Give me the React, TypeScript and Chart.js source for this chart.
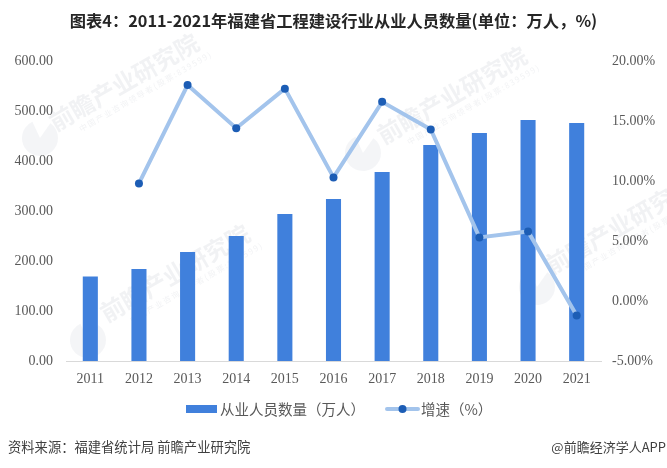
import React, { useEffect, useRef } from 'react';
import Chart from 'chart.js/auto';

const years = ['2011', '2012', '2013', '2014', '2015', '2016', '2017', '2018', '2019', '2020', '2021'];
const workers = [169, 184, 218, 250, 294, 324, 378, 432, 456, 482, 476];
const growth = [null, 9.8, 18.0, 14.4, 17.7, 10.3, 16.6, 14.3, 5.3, 5.8, -1.2];

const titleText = '图表4：2011-2021年福建省工程建设行业从业人员数量(单位：万人，%)';
const sourceText = '资料来源：福建省统计局 前瞻产业研究院';
const brandText = '@前瞻经济学人APP';
const barLabel = '从业人员数量（万人）';
const lineLabel = '增速（%）';
const watermarkText = '前瞻产业研究院';
const watermarkSub = '中国产业咨询领导者(股票:839599)';
// text centre x, y and logo centre x, y of each stamp
const watermarkSpots = [
  [124, 82, 40, 138],
  [175, 273, 88, 340],
  [452, 95, 363, 153],
  [620, 225, 537, 287],
];

const serif = '"Liberation Serif", "Noto Sans CJK SC", serif';
const sans = '"Noto Sans CJK SC", sans-serif';
const textColor = '#595959';
const barColor = '#4080dc';
const lineColor = '#a3c4ec';
const dotColor = '#1c5db5';

// watermark goes under the marks, the legend and the source lines on top
const extras = {
  id: 'extras',
  beforeDatasetsDraw(chart: Chart) {
    const ctx = chart.ctx;
    ctx.save();
    ctx.textAlign = 'center';
    ctx.textBaseline = 'middle';
    watermarkSpots.forEach(([x, y, lx, ly]) => {
      // round logo with a wedge cut out at the top
      ctx.fillStyle = 'rgba(130, 145, 170, 0.09)';
      ctx.beginPath();
      ctx.moveTo(lx, ly);
      ctx.arc(lx, ly, 18, (-55 * Math.PI) / 180, (-115 * Math.PI) / 180);
      ctx.closePath();
      ctx.fill();

      ctx.save();
      ctx.translate(x, y);
      ctx.rotate((-30 * Math.PI) / 180);
      ctx.fillStyle = 'rgba(130, 140, 155, 0.11)';
      ctx.font = `bold 24px ${sans}`;
      ctx.fillText(watermarkText, 0, 0);
      ctx.font = `8px ${sans}`;
      ctx.letterSpacing = '1.5px';
      ctx.fillText(watermarkSub, 14, 19);
      ctx.restore();
    });
    ctx.restore();
  },
  afterDraw(chart: Chart) {
    const ctx = chart.ctx;
    ctx.save();
    ctx.textBaseline = 'middle';
    ctx.textAlign = 'left';

    // legend
    ctx.fillStyle = barColor;
    ctx.fillRect(186, 405, 31, 8);
    ctx.strokeStyle = lineColor;
    ctx.lineWidth = 4;
    ctx.lineCap = 'round';
    ctx.beginPath();
    ctx.moveTo(387, 409);
    ctx.lineTo(418, 409);
    ctx.stroke();
    ctx.fillStyle = dotColor;
    ctx.beginPath();
    ctx.arc(402.5, 409, 4, 0, Math.PI * 2);
    ctx.fill();
    ctx.font = `14.5px ${sans}`;
    ctx.fillStyle = textColor;
    ctx.fillText(barLabel, 220, 409);
    ctx.fillText(lineLabel, 421, 409);

    // source lines
    ctx.font = `13.3px ${sans}`;
    ctx.fillStyle = '#404040';
    ctx.fillText(sourceText, 8, 447);
    ctx.textAlign = 'right';
    ctx.font = `13px ${sans}`;
    ctx.fillText(brandText, 666, 447);
    ctx.restore();
  },
};

export default function App() {
  const canvasRef = useRef<HTMLCanvasElement>(null);

  useEffect(() => {
    document.body.style.margin = '0';
    document.body.style.background = '#fff';
    if (!canvasRef.current) return;
    const chart = new Chart(canvasRef.current, {
      type: 'bar',
      data: {
        labels: years,
        datasets: [
          {
            type: 'line',
            label: lineLabel,
            data: growth,
            yAxisID: 'y1',
            borderColor: lineColor,
            borderWidth: 4,
            pointRadius: 4,
            pointBackgroundColor: dotColor,
            pointBorderWidth: 0,
            tension: 0,
            order: 1,
          },
          {
            type: 'bar',
            label: barLabel,
            data: workers,
            yAxisID: 'y',
            backgroundColor: barColor,
            barPercentage: 0.31,
            categoryPercentage: 1,
            order: 2,
          },
        ],
      },
      options: {
        animation: false,
        responsive: false,
        devicePixelRatio: 1,
        layout: { padding: { top: 0, bottom: 0, left: 0, right: 0 } },
        plugins: {
          legend: { display: false },
          tooltip: { enabled: false },
          title: {
            display: true,
            text: titleText,
            color: '#262626',
            font: { family: sans, size: 16.3, weight: 'bold' },
            padding: { top: 11, bottom: 30.5 },
          },
        },
        scales: {
          x: {
            grid: { display: false },
            border: { color: '#d9d9d9' },
            ticks: { color: textColor, font: { family: serif, size: 14 }, padding: 2, maxRotation: 0 },
            afterFit: (axis) => { axis.height = 107; },
          },
          y: {
            min: 0,
            max: 600,
            grid: { display: false },
            border: { display: false },
            ticks: {
              stepSize: 100,
              color: textColor,
              font: { family: serif, size: 14 },
              padding: 5,
              callback: (v) => Number(v).toFixed(2),
            },
            afterFit: (axis) => { axis.width = 66; },
          },
          y1: {
            position: 'right',
            min: -5,
            max: 20,
            grid: { display: false },
            border: { display: false },
            ticks: {
              stepSize: 5,
              color: textColor,
              font: { family: serif, size: 14 },
              padding: 3,
              callback: (v) => Number(v).toFixed(2) + '%',
            },
            afterFit: (axis) => { axis.width = 66; },
          },
        },
      },
      plugins: [extras],
    });
    return () => chart.destroy();
  }, []);

  return <canvas ref={canvasRef} width={667} height={468} style={{ display: 'block' }} />;
}
